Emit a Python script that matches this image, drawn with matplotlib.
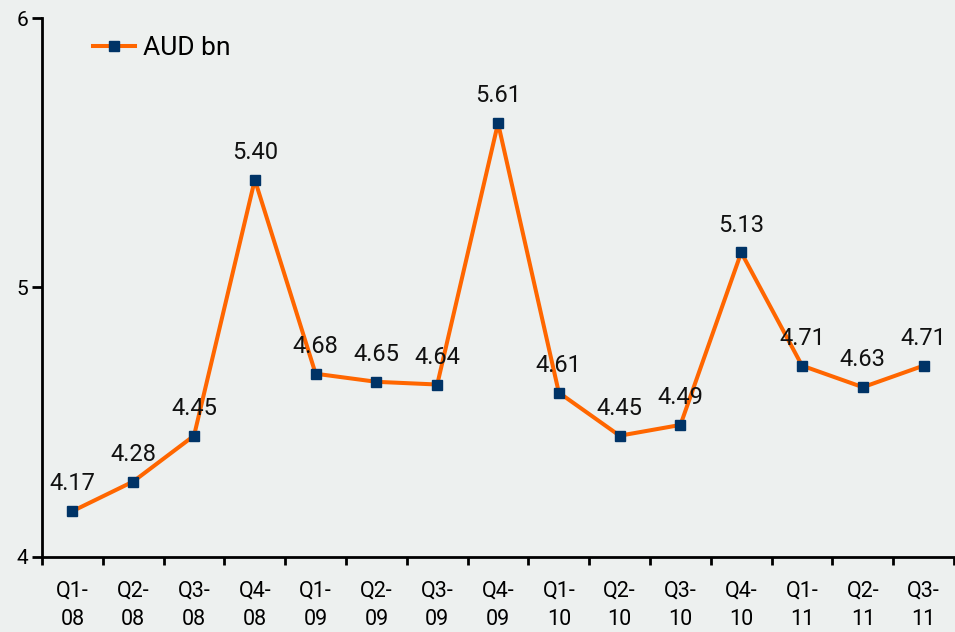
import matplotlib
matplotlib.use("Agg")
import matplotlib.pyplot as plt

plt.rcParams["font.family"] = ["Roboto", "DejaVu Sans"]

categories = ["Q1-\n08", "Q2-\n08", "Q3-\n08", "Q4-\n08", "Q1-\n09", "Q2-\n09", "Q3-\n09", "Q4-\n09",
              "Q1-\n10", "Q2-\n10", "Q3-\n10", "Q4-\n10", "Q1-\n11", "Q2-\n11", "Q3-\n11"]
values = [4.17, 4.28, 4.45, 5.40, 4.68, 4.65, 4.64, 5.61, 4.61, 4.45, 4.49, 5.13, 4.71, 4.63, 4.71]
series_name = "AUD bn"
yticks = [4, 5, 6]

bg = "#edf0ef"
fig = plt.figure(figsize=(9.55, 6.32), dpi=100, facecolor=bg)
ax = fig.add_axes([0.044, 0.1187, 0.955, 0.8528], facecolor=bg)

x = list(range(len(values)))
ax.plot(x, values, color="#ff6600", lw=2.9, marker="s", markersize=6.5,
        markerfacecolor="#003366", markeredgecolor="#003366", label=series_name, zorder=3)
for xi, v in zip(x, values):
    ax.annotate(f"{v:.2f}", (xi, v), xytext=(0, 15), textcoords="offset points",
                ha="center", va="baseline", fontsize=17, color="#111111")

ax.set_xlim(-0.5, len(values) - 0.5)
ax.set_ylim(4, 6)
ax.set_yticks(yticks)
ax.set_yticklabels([str(t) for t in yticks])
ax.set_xticks([i - 0.5 for i in range(len(values) + 1)])
ax.set_xticklabels([])
ax.set_xticks(x, minor=True)
ax.set_xticklabels(categories, minor=True, fontsize=15.5, linespacing=1.45)
ax.tick_params(axis="x", which="minor", length=0, pad=17)
ax.tick_params(axis="x", which="major", length=6, width=2, direction="out", color="black")
ax.tick_params(axis="y", length=7, width=2, direction="out", pad=3, labelsize=15)
for lbl in ax.get_yticklabels():
    lbl.set_fontsize(15)
for s in ["top", "right"]:
    ax.spines[s].set_visible(False)
for s in ["left", "bottom"]:
    ax.spines[s].set_linewidth(2)

leg = ax.legend(loc="upper left", bbox_to_anchor=(0.03, 1.01), frameon=False, fontsize=19,
                handlelength=1.6, handletextpad=0.3)

fig.savefig("out.png", dpi=100, facecolor=bg)
